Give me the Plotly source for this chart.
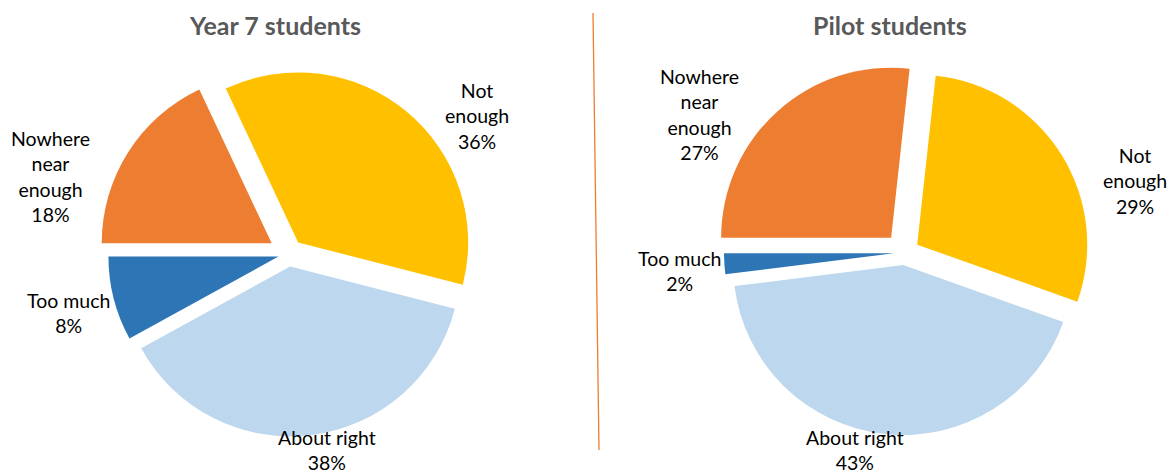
import plotly.graph_objects as go

# ---------------- data ----------------
categories = ["Nowhere near enough", "Not enough", "About right", "Too much"]
label_text = ["Nowhere<br>near<br>enough", "Not<br>enough", "About right", "Too much"]
year7_values = [18, 36, 38, 8]
pilot_values = [27, 29, 43, 2]
titles = ["Year 7 students", "Pilot students"]

# ---------------- style ----------------
colors = ["#ED7D31", "#FFC000", "#BDD7EE", "#2E75B6"]
W, H = 1169, 473
FONT = "Lato, Carlito, Calibri, sans-serif"
R = 170                                   # pie radius in px
slice_pull_px = [20, 15, 12.5, 10.5]      # explosion per slice in px
pie_centres = [(288.6, 254.0), (904.5, 252.6)]
# label block centres in pixels (per category order)
label_pos = [
    [(50, 176), (477, 116), (327, 450), (68, 313)],
    [(700, 114), (1135, 181), (855, 450), (679, 271)],
]
title_pos = [(275, 25), (890, 25)]

pulls = [p / R for p in slice_pull_px]


def domain(cx, cy):
    half = R * (1 + max(pulls))
    return dict(
        x=[(cx - half) / W, (cx + half) / W],
        y=[1 - (cy + half) / H, 1 - (cy - half) / H],
    )


fig = go.Figure()
annotations = []
for k, vals in enumerate([year7_values, pilot_values]):
    cx, cy = pie_centres[k]
    fig.add_trace(go.Pie(
        labels=categories,
        values=vals,
        sort=False,
        direction="clockwise",
        rotation=-90,
        pull=pulls,
        marker=dict(colors=colors, line=dict(width=0)),
        textinfo="none",
        hoverinfo="label+percent",
        showlegend=False,
        domain=domain(cx, cy),
    ))
    total = sum(vals)
    for i, v in enumerate(vals):
        pct = round(v / total * 100)
        x, y = label_pos[k][i]
        annotations.append(dict(
            x=x / W, y=1 - y / H, xref="paper", yref="paper",
            xanchor="center", yanchor="middle", showarrow=False,
            align="center",
            text=f"{label_text[i]}<br>{pct}%",
            font=dict(family=FONT, size=19.5, color="#000000"),
        ))
    tx, ty = title_pos[k]
    annotations.append(dict(
        x=tx / W, y=1 - ty / H, xref="paper", yref="paper",
        xanchor="center", yanchor="middle", showarrow=False,
        text=f"<b>{titles[k]}</b>",
        font=dict(family=FONT, size=25, color="#595959"),
    ))

fig.update_layout(
    width=W, height=H,
    margin=dict(l=0, r=0, t=0, b=0),
    paper_bgcolor="white", plot_bgcolor="white",
    annotations=annotations,
    shapes=[dict(type="line", xref="paper", yref="paper",
                 x0=593 / W, y0=1 - 13 / H, x1=599 / W, y1=1 - 450 / H,
                 line=dict(color="#ED7D31", width=1.3))],
)

fig.write_html(
    "out.html",
    config={"displayModeBar": False},
    post_script="document.body.style.margin='0';document.body.style.overflow='hidden';",
)
